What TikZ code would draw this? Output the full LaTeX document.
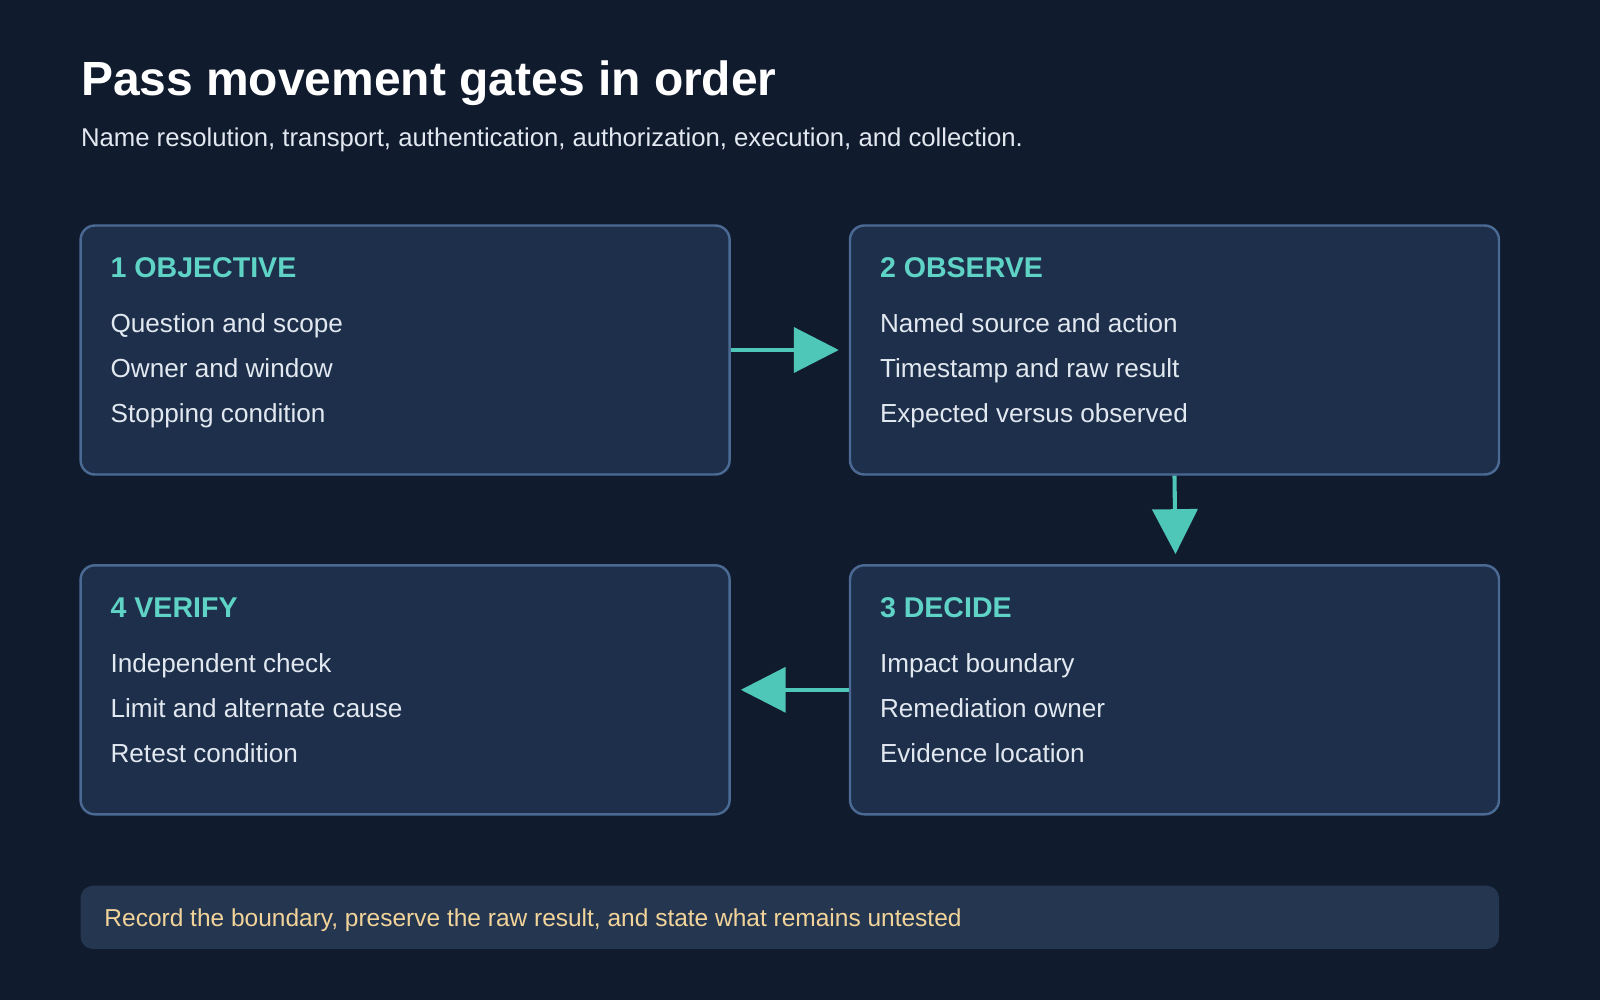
\documentclass[tikz,border=0pt]{standalone}
\usepackage{fontspec}
\setmainfont{Liberation Sans}
\usetikzlibrary{arrows.meta}
\definecolor{bg}{HTML}{111B2E}
\definecolor{boxf}{HTML}{1D2F4A}
\definecolor{boxd}{HTML}{4A6A94}
\definecolor{teal}{HTML}{5FD3C6}
\definecolor{txt}{HTML}{E2E8F0}
\definecolor{arr}{HTML}{4FC7B8}
\definecolor{foot}{HTML}{253750}
\definecolor{foottxt}{HTML}{F2D49B}
\begin{document}
\begin{tikzpicture}[x=0.5pt,y=-0.5pt,
  card/.style={draw=boxd,fill=boxf,line width=1.2pt,rounded corners=7pt,minimum width=318pt,minimum height=122pt,inner sep=0pt},
  head/.style={anchor=base west,text=teal,font=\fontsize{14}{16}\selectfont\bfseries,inner sep=0pt},
  item/.style={anchor=base west,text=txt,font=\fontsize{12.8}{15}\selectfont,inner sep=0pt},
  flow/.style={draw=arr,line width=2pt,-{Triangle[length=22pt,width=22pt]}}]
\fill[bg] (0,0) rectangle (1568,980);
\useasboundingbox (0,0) rectangle (1568,980);
\node[anchor=base west,text=white,font=\fontsize{23.5}{28}\selectfont\bfseries,inner sep=0pt] (title) at (79,94) {Pass movement gates in order};
\node[anchor=base west,text=txt,font=\fontsize{12.6}{15}\selectfont,inner sep=0pt] (sub) at (79,144) {Name resolution, transport, authentication, authorization, execution, and collection.};
\node[card] (b1) at (397,343) {};
\node[card] (b2) at (1151,343) {};
\node[card] (b3) at (1151,676) {};
\node[card] (b4) at (397,676) {};
\node[head] (h1) at (108,272) {1 OBJECTIVE};
\node[item] (a1) at (108,326) {Question and scope};
\node[item] (a2) at (108,370) {Owner and window};
\node[item] (a3) at (108,414) {Stopping condition};
\node[head] (h2) at (862,272) {2 OBSERVE};
\node[item] (c1) at (862,326) {Named source and action};
\node[item] (c2) at (862,370) {Timestamp and raw result};
\node[item] (c3) at (862,414) {Expected versus observed};
\node[head] (h3) at (862,605) {3 DECIDE};
\node[item] (d1) at (862,659) {Impact boundary};
\node[item] (d2) at (862,703) {Remediation owner};
\node[item] (d3) at (862,747) {Evidence location};
\node[head] (h4) at (108,605) {4 VERIFY};
\node[item] (e1) at (108,659) {Independent check};
\node[item] (e2) at (108,703) {Limit and alternate cause};
\node[item] (e3) at (108,747) {Retest condition};
\coordinate (p1) at (822,343);
\coordinate (p2) at (1152,543);
\coordinate (p3) at (726,676);
\draw[flow] (b1.east) -- (p1);
\draw[flow] (b2.south) -- (p2);
\draw[flow] (b3.west) -- (p3);
\node[fill=foot,rounded corners=6pt,minimum width=695pt,minimum height=31pt,inner sep=0pt] (footer) at (774,899) {};
\node[anchor=base west,text=foottxt,font=\fontsize{12}{14}\selectfont,inner sep=0pt] (ft) at (102,908) {Record the boundary, preserve the raw result, and state what remains untested};
\end{tikzpicture}
\end{document}
